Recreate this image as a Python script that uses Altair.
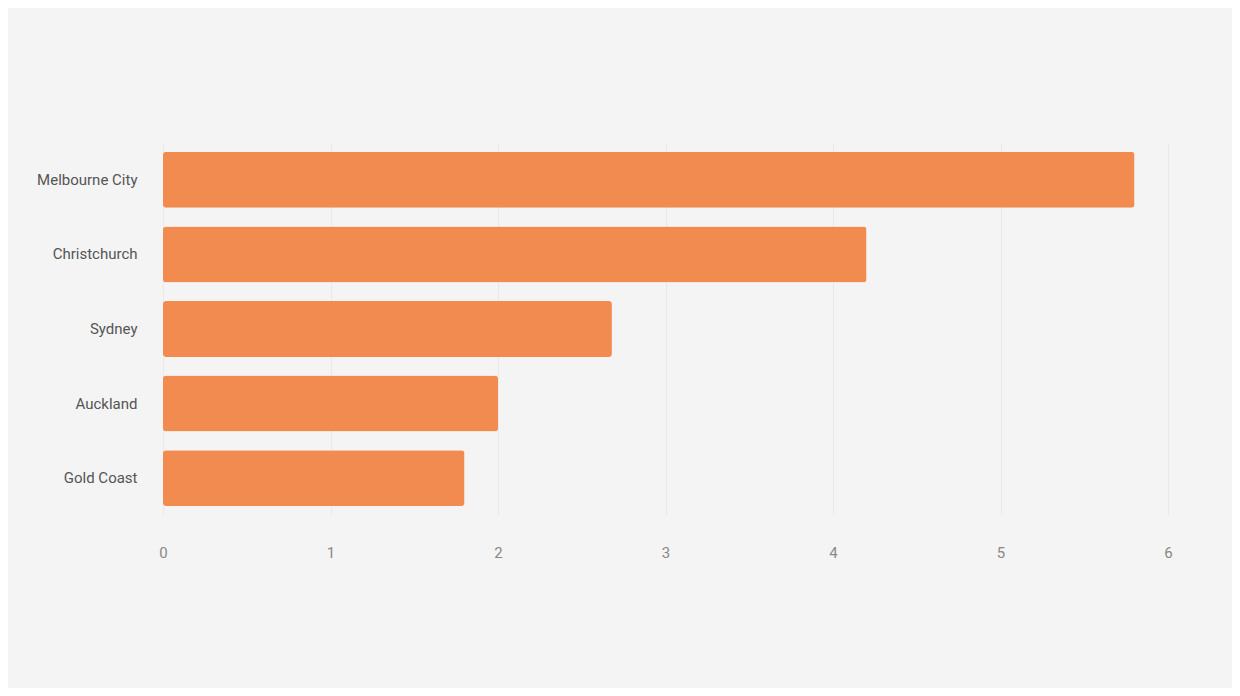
import pandas as pd
import altair as alt

# Kategorier og verdier lest av bildet
categories = ["Melbourne City", "Christchurch", "Sydney", "Auckland", "Gold Coast"]
values = [5.8, 4.2, 2.68, 2.0, 1.8]
x_ticks = [0, 1, 2, 3, 4, 5, 6]

df = pd.DataFrame({"kategori": categories, "verdi": values})

chart = alt.Chart(df).mark_bar(color="#F28B4F", cornerRadius=3).encode(
    x=alt.X("verdi:Q", title=None,
            scale=alt.Scale(domain=[0, 6], nice=False),
            axis=alt.Axis(values=x_ticks, format="d", domain=False, ticks=False,
                          grid=True, gridColor="#e9e9e9", labelPadding=30,
                          labelFlush=False, labelColor="#888", labelFontSize=15)),
    y=alt.Y("kategori:N", title=None, sort=categories,
            scale=alt.Scale(paddingInner=0.25, paddingOuter=0.12),
            axis=alt.Axis(domain=False, ticks=False, grid=False, labelPadding=26,
                          labelColor="#555", labelFontSize=15)),
    tooltip=["kategori", "verdi"]
).properties(
    width=1005,
    height=372,
    padding={"left": 155, "top": 135, "right": 64, "bottom": 173},
    autosize=alt.AutoSizeParams(type="none"),
    background="#f4f4f4"
).configure_view(
    stroke=None
).configure_axis(
    labelFont="Roboto"
)

chart.save("out.html", embed_options={"renderer": "svg", "actions": False})
